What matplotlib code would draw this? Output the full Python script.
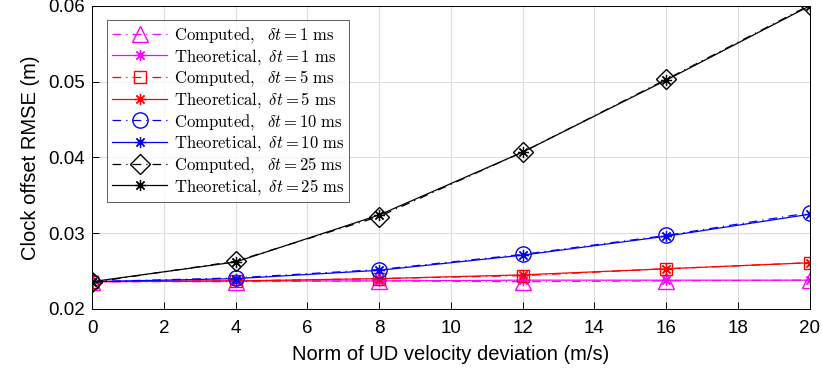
import matplotlib
matplotlib.use("Agg")
import matplotlib.pyplot as plt

x = [0, 4, 8, 12, 16, 20]

comp_1ms = [0.0236, 0.0236, 0.0237, 0.0236, 0.0237, 0.0238]
theo_1ms = [0.0236, 0.0237, 0.0237, 0.0238, 0.0238, 0.0238]
comp_5ms = [0.0236, 0.0237, 0.0240, 0.0244, 0.0253, 0.0261]
theo_5ms = [0.0236, 0.0237, 0.0240, 0.0245, 0.0253, 0.0261]
comp_10ms = [0.0236, 0.0241, 0.0252, 0.0272, 0.0297, 0.0327]
theo_10ms = [0.0236, 0.0240, 0.0251, 0.0271, 0.0296, 0.0325]
comp_25ms = [0.0235, 0.0263, 0.0322, 0.0407, 0.0503, 0.0601]
theo_25ms = [0.0236, 0.0262, 0.0324, 0.0407, 0.0502, 0.0600]

dts = ["1", "5", "10", "25"]
colors = ["#ff00ff", "#ff0000", "#0000ff", "#000000"]
comp_markers = ["^", "s", "o", "D"]
comp_sizes = [11, 9, 11, 10]
comps = [comp_1ms, comp_5ms, comp_10ms, comp_25ms]
theos = [theo_1ms, theo_5ms, theo_10ms, theo_25ms]

plt.rcParams['font.family'] = ['Liberation Sans', 'DejaVu Sans']
plt.rcParams['mathtext.fontset'] = 'cm'

fig = plt.figure(figsize=(8.22, 3.70), dpi=100)
ax = fig.add_axes([0.112, 0.165, 0.873, 0.819])

for dt, c, m, ms, yc, yt in zip(dts, colors, comp_markers, comp_sizes, comps, theos):
    ax.plot(x, yc, linestyle=(0, (7, 4, 1, 4)), color=c, marker=m, markersize=ms,
            markerfacecolor='none', markeredgecolor=c, linewidth=0.9,
            label=r'$\mathrm{Computed,}\ \ \delta t\mathrm{=' + dt + r'\ ms}$')
    ax.plot(x, yt, linestyle='-', color=c, marker=(8, 2, 0), markersize=8,
            markeredgewidth=0.9, linewidth=0.9,
            label=r'$\mathrm{Theoretical,}\ \delta t\mathrm{=' + dt + r'\ ms}$')

ax.set_xlim(0, 20)
ax.set_ylim(0.02, 0.06)
ax.set_xticks(range(0, 21, 2))
ax.set_yticks([0.02, 0.03, 0.04, 0.05, 0.06])
ax.set_yticklabels(['0.02', '0.03', '0.04', '0.05', '0.06'])
ax.grid(True, color='#dcdcdc', linewidth=0.8)
ax.set_axisbelow(True)
ax.tick_params(direction='in', labelsize=13.5, length=5, width=0.7, top=False, right=False)
ax.tick_params(axis='x', pad=8)
ax.tick_params(axis='y', pad=5)
for s in ax.spines.values():
    s.set_linewidth(0.7)
ax.set_xlabel('Norm of UD velocity deviation (m/s)', fontsize=14.5, labelpad=6)
ax.set_ylabel('Clock offset RMSE (m)', fontsize=14.5, labelpad=6)

leg = ax.legend(loc='upper left', bbox_to_anchor=(0.021, 0.954), fontsize=12,
                frameon=True, fancybox=False, edgecolor='#333333',
                handlelength=3.3, labelspacing=0.1, borderpad=0.3,
                handletextpad=0.4, borderaxespad=0)
leg.get_frame().set_linewidth(0.7)

fig.savefig('out.png', dpi=100)
